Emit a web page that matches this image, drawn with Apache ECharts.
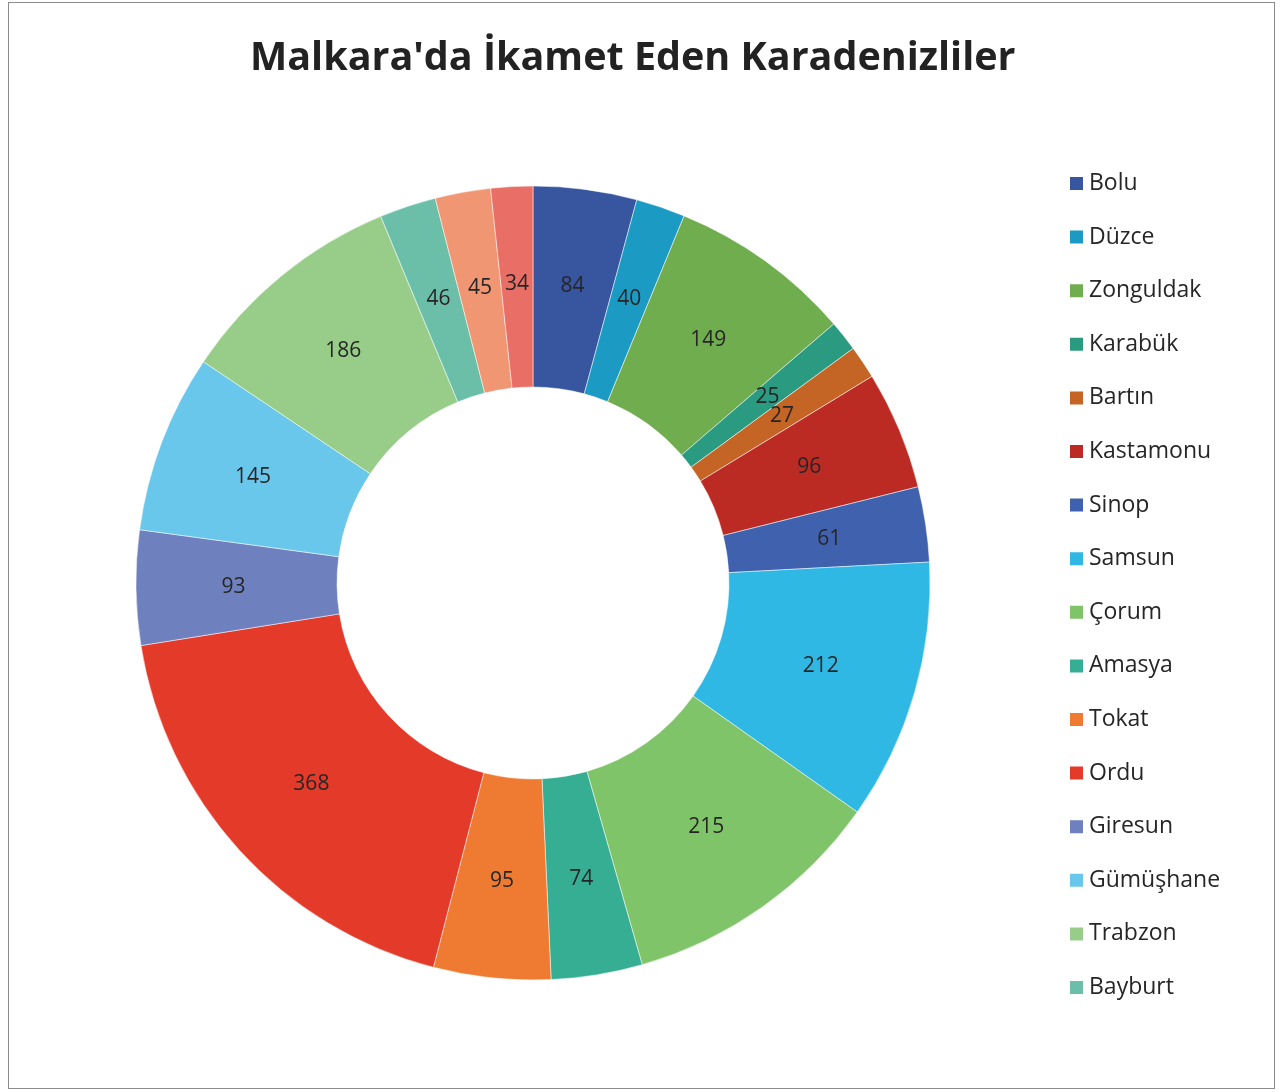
<!DOCTYPE html>
<html>
<head>
<meta charset="utf-8">
<script src="https://cdn.jsdelivr.net/npm/echarts@6/dist/echarts.min.js"></script>
<style>
  html, body { margin: 0; padding: 0; background: #fff; }
  #chart { position: absolute; left: 8px; top: 2px; width: 1267px; height: 1087px; border: 1px solid #8c8c8c; box-sizing: border-box; }
</style>
</head>
<body>
<div id="chart"></div>
<script>
const titleText = "Malkara'da İkamet Eden Karadenizliler";

// slices, clockwise from 12 o'clock
const provinces = ['Bolu', 'Düzce', 'Zonguldak', 'Karabük', 'Bartın', 'Kastamonu', 'Sinop', 'Samsun',
  'Çorum', 'Amasya', 'Tokat', 'Ordu', 'Giresun', 'Gümüşhane', 'Trabzon', 'Bayburt', 'Rize', 'Artvin'];
const residents = [84, 40, 149, 25, 27, 96, 61, 212, 215, 74, 95, 368, 93, 145, 186, 46, 45, 34];
const sliceColors = ['#37569f', '#1b9bc3', '#70ad4f', '#2a9a81', '#c46525', '#bb2a23', '#4062ae', '#2eb8e3',
  '#80c46a', '#36ae93', '#ee7b31', '#e43a2a', '#6f80bf', '#6ac7ec', '#97cd88', '#6bbfa9', '#f09673', '#e96e66'];
// the legend in the original only lists the first 16
const legendNames = provinces.slice(0, 16);

const font = 'Open Sans';

const chart = echarts.init(document.getElementById('chart'));
chart.setOption({
  animation: false,
  color: sliceColors,
  title: {
    text: titleText,
    left: 236,
    top: 31,
    textStyle: { fontFamily: font, fontSize: 39.5, fontWeight: 'bold', color: '#222' }
  },
  legend: {
    orient: 'vertical',
    left: 1054,
    top: 164,
    data: legendNames,
    icon: 'rect',
    itemWidth: 15,
    itemHeight: 15,
    itemGap: 30.6,
    textStyle: { fontFamily: font, fontSize: 23, color: '#262626', lineHeight: 22 }
  },
  series: [{
    type: 'pie',
    center: [524, 580],
    radius: [196, 397],
    startAngle: 90,
    clockwise: true,
    avoidLabelOverlap: false,
    itemStyle: { borderColor: '#fff', borderWidth: 0.5 },
    label: {
      position: 'inside',
      formatter: '{c}',
      fontFamily: font,
      fontSize: 21,
      color: '#262626'
    },
    labelLayout: { hideOverlap: false },
    labelLine: { show: false },
    data: provinces.map((n, i) => ({ name: n, value: residents[i] }))
  }]
});
</script>
</body>
</html>
